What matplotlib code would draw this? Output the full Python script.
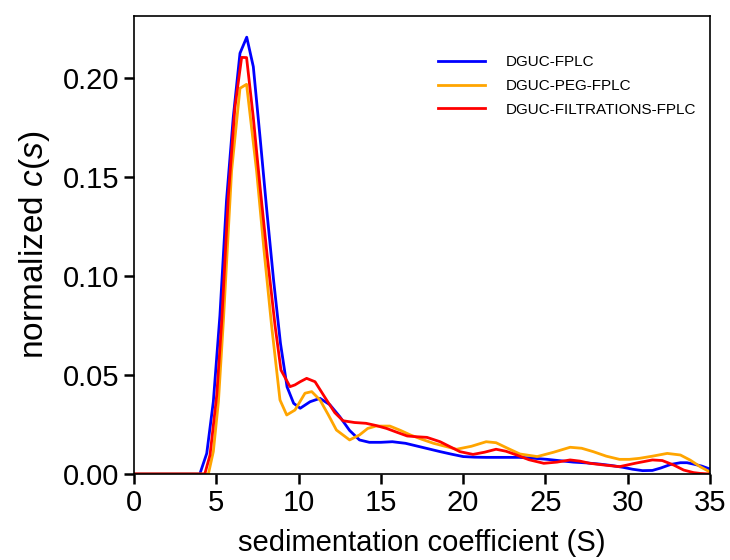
import numpy as np
import matplotlib
matplotlib.use('Agg')
import matplotlib.pyplot as plt

plt.rcParams['font.family'] = ['Liberation Sans', 'DejaVu Sans']
plt.rcParams['mathtext.fontset'] = 'custom'
plt.rcParams['mathtext.rm'] = 'Liberation Sans'
plt.rcParams['mathtext.it'] = 'Liberation Sans:italic'

# DGUC-FPLC
s_blue = [0, 4.0, 4.42, 4.82, 5.22, 5.62, 6.03, 6.44, 6.85, 7.25, 7.66, 8.07, 8.48, 8.9,
          9.3, 9.7, 10.1, 10.7, 11.3, 11.9, 12.5, 13.1, 13.7, 14.3, 15.0, 15.7, 16.5, 17.2,
          17.9, 18.6, 19.3, 20.0, 20.7, 21.4, 22.4, 23.4, 24.2, 25.1, 25.9, 26.7, 27.5, 28.3,
          29.0, 29.7, 30.3, 30.9, 31.5, 32.0, 32.6, 33.2, 33.6, 34.0, 34.5, 35.0]
c_blue = [0, 0, 0.0104, 0.0365, 0.080, 0.138, 0.180, 0.2125, 0.2206, 0.2057, 0.170, 0.133,
          0.098, 0.066, 0.044, 0.0357, 0.0332, 0.0365, 0.0382, 0.035, 0.029, 0.022, 0.0172,
          0.016, 0.016, 0.0163, 0.0155, 0.0141, 0.0127, 0.0113, 0.010, 0.0088, 0.0085, 0.0084,
          0.0084, 0.0084, 0.0080, 0.0074, 0.0067, 0.006, 0.0056, 0.005, 0.0043, 0.0034, 0.0024,
          0.0017, 0.0018, 0.003, 0.0048, 0.0057, 0.0057, 0.005, 0.004, 0.0025]

# DGUC-PEG-FPLC
s_orange = [0, 4.52, 4.82, 5.13, 5.43, 5.93, 6.44, 6.84, 7.45, 7.9, 8.36, 8.87, 9.28, 9.78,
            10.39, 10.8, 11.3, 11.8, 12.3, 13.1, 13.7, 14.2, 14.7, 15.55, 16.2, 16.8, 17.5,
            18.2, 18.9, 19.6, 20.5, 21.4, 22.0, 22.7, 23.45, 24.5, 25.5, 26.5, 27.2, 27.9,
            28.7, 29.5, 30.1, 30.7, 31.5, 32.4, 33.2, 33.8, 34.4, 35.0]
c_orange = [0, 0, 0.0113, 0.0365, 0.077, 0.153, 0.1948, 0.1968, 0.153, 0.113, 0.075, 0.0374,
            0.0298, 0.0323, 0.0408, 0.0416, 0.0374, 0.030, 0.0222, 0.0172, 0.0197, 0.023,
            0.0242, 0.0242, 0.022, 0.0197, 0.0175, 0.0155, 0.014, 0.0125, 0.014, 0.0163,
            0.0158, 0.013, 0.0101, 0.0088, 0.011, 0.0135, 0.013, 0.0113, 0.009, 0.0074,
            0.0074, 0.0079, 0.009, 0.0104, 0.0096, 0.007, 0.0037, 0.001]

# DGUC-FILTRATIONS-FPLC
s_red = [0, 4.3, 4.62, 5.03, 5.33, 5.73, 6.13, 6.54, 6.84, 7.25, 7.66, 8.07, 8.57, 8.93,
         9.48, 9.78, 10.1, 10.49, 11.0, 11.7, 12.2, 12.7, 13.4, 14.1, 14.7, 15.35, 16.0,
         16.6, 17.2, 17.8, 18.6, 19.2, 19.8, 20.6, 21.3, 22.0, 22.6, 23.25, 24.0, 24.9,
         25.7, 26.5, 27.1, 27.7, 28.6, 29.5, 30.5, 31.5, 32.1, 32.8, 33.4, 34.0, 34.4, 35.0]
c_red = [0, 0, 0.0096, 0.040, 0.077, 0.140, 0.185, 0.2104, 0.2103, 0.180, 0.145, 0.112,
         0.075, 0.0525, 0.0441, 0.045, 0.0466, 0.0483, 0.0466, 0.0374, 0.031, 0.0269,
         0.026, 0.0256, 0.0245, 0.023, 0.021, 0.0192, 0.0188, 0.0185, 0.0163, 0.0138,
         0.0113, 0.0099, 0.011, 0.0125, 0.0115, 0.0096, 0.0072, 0.0054, 0.006, 0.0071,
         0.0065, 0.0054, 0.0045, 0.0037, 0.0055, 0.0071, 0.0068, 0.0045, 0.002, 0.0007,
         0.0003, 0]

labels = ['DGUC-FPLC', 'DGUC-PEG-FPLC', 'DGUC-FILTRATIONS-FPLC']

fig = plt.figure(figsize=(7.3, 5.6), dpi=100)
ax = fig.add_axes([134/730, 1-474/560, (710-134)/730, (474-16)/560])

ax.plot(s_blue, c_blue, color='blue', lw=2, label=labels[0])
ax.plot(s_orange, c_orange, color='orange', lw=2, label=labels[1])
ax.plot(s_red, c_red, color='red', lw=2, label=labels[2])

ax.set_xlim(0, 35)
ax.set_ylim(0, 0.2313)
ax.set_xticks(np.arange(0, 36, 5))
ax.set_yticks([0, 0.05, 0.10, 0.15, 0.20])
ax.set_yticklabels(['0.00', '0.05', '0.10', '0.15', '0.20'])
ax.tick_params(labelsize=21, length=7, width=1.8)
for sp in ax.spines.values():
    sp.set_linewidth(1.2)

ax.set_xlabel('sedimentation coefficient (S)', fontsize=21, labelpad=9)
ax.set_ylabel('normalized $c$($s$)', fontsize=24, labelpad=8)

ax.legend(loc='upper right', frameon=False, fontsize=11, handlelength=3.1,
          handletextpad=1.35, labelspacing=0.65, bbox_to_anchor=(1.0, 0.945))

fig.savefig('out.png', dpi=100)
